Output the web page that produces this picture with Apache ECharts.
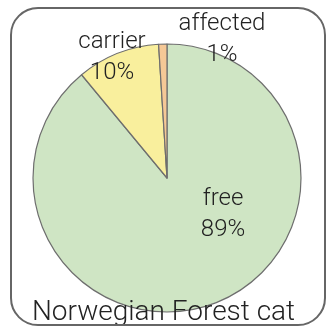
<!DOCTYPE html>
<html>
<head>
<meta charset="utf-8">
<script src="https://cdn.jsdelivr.net/npm/echarts@6/dist/echarts.min.js"></script>
<style>
  html, body { margin: 0; padding: 0; background: #fff; }
  #chart { width: 327px; height: 327px; }
</style>
</head>
<body>
<div id="chart"></div>
<script>
const categories = ['free', 'carrier', 'affected']
const shares = [89, 10, 1]
const sliceColors = ['#cfe5c4', '#f9ef9d', '#f5c896']
const chartTitle = 'Norwegian Forest cat'

// where each label block sits (centre), same order as categories
const labelSpots = [[223, 214], [112, 57], [222, 39]]

const chart = echarts.init(document.getElementById('chart'))

chart.setOption({
  animation: false,
  backgroundColor: '#fff',
  title: {
    text: chartTitle,
    left: 'center',
    bottom: -5,
    textStyle: {
      fontFamily: 'Roboto',
      fontWeight: 300,
      fontSize: 28,
      color: '#222'
    }
  },
  graphic: [{
    type: 'rect',
    z: 100,
    shape: { x: 11, y: 8, width: 314, height: 317, r: 27 },
    style: { fill: 'none', stroke: '#666', lineWidth: 2 }
  }],
  series: [{
    type: 'pie',
    center: [167, 178],
    radius: [0, 134],
    startAngle: 90,
    clockwise: true,
    data: categories.map((name, i) => ({
      name,
      value: shares[i],
      itemStyle: { color: sliceColors[i] }
    })),
    itemStyle: { borderColor: '#6e6e6e', borderWidth: 1.2 },
    label: {
      show: true,
      position: 'inside',
      formatter: '{b}\n{c}%',
      fontFamily: 'Roboto',
      fontWeight: 300,
      fontSize: 24,
      lineHeight: 31,
      color: '#222'
    },
    labelLine: { show: false },
    labelLayout: (params) => ({
      x: labelSpots[params.dataIndex][0],
      y: labelSpots[params.dataIndex][1],
      align: 'center',
      verticalAlign: 'middle'
    })
  }]
})
</script>
</body>
</html>
